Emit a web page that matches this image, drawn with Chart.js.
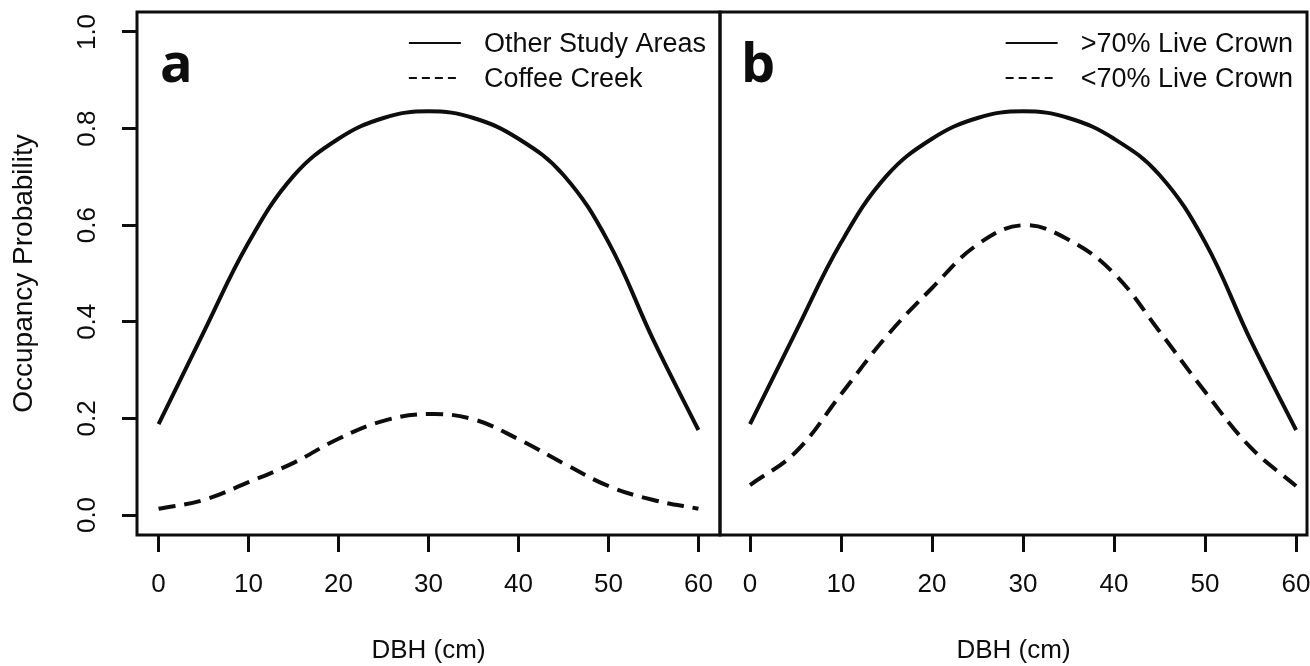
<!DOCTYPE html>
<html>
<head>
<meta charset="utf-8">
<script src="https://cdn.jsdelivr.net/npm/chart.js@4.4.0/dist/chart.umd.min.js"></script>
<style>
  html, body { margin: 0; padding: 0; background: #fff; }
  #wrap { position: relative; width: 1310px; height: 666px; overflow: hidden; }
  #chartA { position: absolute; left: 0; top: 0; }
  #chartB { position: absolute; left: 700px; top: 0; }
</style>
</head>
<body>
<div id="wrap">
  <canvas id="chartA" width="722" height="666"></canvas>
  <canvas id="chartB" width="610" height="666"></canvas>
</div>
<script>
/* ============================================================
   DATA
============================================================ */
const dbh = [0, 5, 10, 15, 20, 25, 30, 35, 40, 45, 50, 55, 60];
const xTicks = [0, 10, 20, 30, 40, 50, 60];
const yTicks = [0, 0.2, 0.4, 0.6, 0.8, 1.0];

// panel a
const otherAreas  = [0.188, 0.378, 0.564, 0.702, 0.779, 0.822, 0.836, 0.822, 0.779, 0.704, 0.565, 0.362, 0.176];
const coffeeCreek = [0.013, 0.031, 0.068, 0.108, 0.158, 0.195, 0.209, 0.198, 0.157, 0.107, 0.060, 0.031, 0.013];

// panel b
const crownHigh = [0.188, 0.378, 0.564, 0.702, 0.779, 0.822, 0.836, 0.822, 0.779, 0.704, 0.565, 0.362, 0.176];
const crownLow  = [0.062, 0.130, 0.250, 0.370, 0.470, 0.560, 0.600, 0.570, 0.500, 0.380, 0.255, 0.140, 0.060];

/* ============================================================
   Helpers
============================================================ */
const INK = "#0d0d0d";
const FONT = "'Liberation Sans', Arial, sans-serif";

function pts(ys) {
    return dbh.map((x, i) => ({ x: x, y: ys[i] }));
}

function line(label, ys, dashed) {
    return {
        label: label,
        data: pts(ys),
        borderColor: INK,
        borderWidth: 4,
        borderDash: dashed ? [17, 9] : [],
        pointRadius: 0,
        tension: 0.4,
        fill: false
    };
}

// box, panel letter and R-style legend
const framePlugin = {
    id: "frame",
    afterDraw(chart, args, opts) {
        const { ctx, chartArea: a } = chart;
        ctx.save();
        ctx.strokeStyle = INK;
        ctx.lineWidth = 3;
        ctx.strokeRect(a.left, a.top, a.right - a.left, a.bottom - a.top);

        ctx.fillStyle = INK;
        ctx.font = "bold 54px 'Open Sans', sans-serif";
        ctx.textBaseline = "alphabetic";
        ctx.textAlign = "left";
        ctx.fillText(opts.letter, a.left + opts.letterX, a.top + 70);

        ctx.font = "27px " + FONT;
        ctx.textBaseline = "middle";
        const ds = chart.data.datasets;
        const widest = Math.max(...ds.map(d => ctx.measureText(d.label).width));
        const textX = a.right - 14 - widest;
        ds.forEach((d, i) => {
            const y = a.top + 33 + i * 35;
            ctx.lineWidth = 2;
            ctx.setLineDash(d.borderDash.length ? [8, 5] : []);
            ctx.beginPath();
            ctx.moveTo(textX - 75, y - 2);
            ctx.lineTo(textX - 23, y - 2);
            ctx.stroke();
            ctx.setLineDash([]);
            ctx.fillText(d.label, textX, y);
        });
        ctx.restore();
    }
};

function xScale(min, max) {
    return {
        type: "linear",
        min: min,
        max: max,
        afterBuildTicks: s => { s.ticks = xTicks.map(v => ({ value: v })); },
        afterFit: s => {
            s.height = 131;
            s.paddingLeft = 0;
            s.paddingRight = 0;
        },
        border: { display: false },
        grid: { drawOnChartArea: false, tickLength: 17, tickWidth: 3, tickColor: INK },
        ticks: {
            autoSkip: false, maxRotation: 0, padding: 17, color: INK,
            font: { size: 26, family: FONT },
            callback: v => String(v)
        },
        title: {
            display: true, text: "DBH (cm)", color: INK,
            font: { size: 26, family: FONT }, padding: { top: 0, bottom: 0 }
        }
    };
}

const yScale = {
    type: "linear",
    min: -0.0414,
    max: 1.0414,
    afterBuildTicks: s => { s.ticks = yTicks.map(v => ({ value: v })); },
    afterFit: s => {
        s.width = 137;
        s.paddingTop = 0;
        s.paddingBottom = 0;
    },
    border: { display: false },
    grid: { drawOnChartArea: false, tickLength: 15, tickWidth: 3, tickColor: INK },
    ticks: {
        minRotation: 90, maxRotation: 90, crossAlign: "center", padding: 16, color: INK,
        font: { size: 26, family: FONT },
        callback: v => v.toFixed(1)
    },
    title: {
        display: true, text: "Occupancy Probability", color: INK,
        font: { size: 28, family: FONT }, padding: { top: 7, bottom: 0 }
    }
};

/* ============================================================
   PANEL a
============================================================ */
new Chart(document.getElementById("chartA"), {
    type: "line",
    data: {
        datasets: [
            line("Other Study Areas", otherAreas, false),
            line("Coffee Creek", coffeeCreek, true)
        ]
    },
    options: {
        responsive: false,
        animation: false,
        layout: { padding: { top: 12, left: 0, right: 2, bottom: 0 } },
        scales: { x: xScale(-2.4, 62.4), y: yScale },
        plugins: {
            legend: { display: false },
            tooltip: { enabled: false },
            frame: { letter: "a", letterX: 23 }
        }
    },
    plugins: [framePlugin]
});

/* ============================================================
   PANEL b
============================================================ */
new Chart(document.getElementById("chartB"), {
    type: "line",
    data: {
        datasets: [
            line(">70% Live Crown", crownHigh, false),
            line("<70% Live Crown", crownLow, true)
        ]
    },
    options: {
        responsive: false,
        animation: false,
        layout: { padding: { top: 12, left: 20, right: 3, bottom: 0 } },
        scales: {
            x: xScale(-3.3, 61.2),
            y: { type: "linear", min: -0.0414, max: 1.0414, display: false }
        },
        plugins: {
            legend: { display: false },
            tooltip: { enabled: false },
            frame: { letter: "b", letterX: 21 }
        }
    },
    plugins: [framePlugin]
});
</script>
</body>
</html>
